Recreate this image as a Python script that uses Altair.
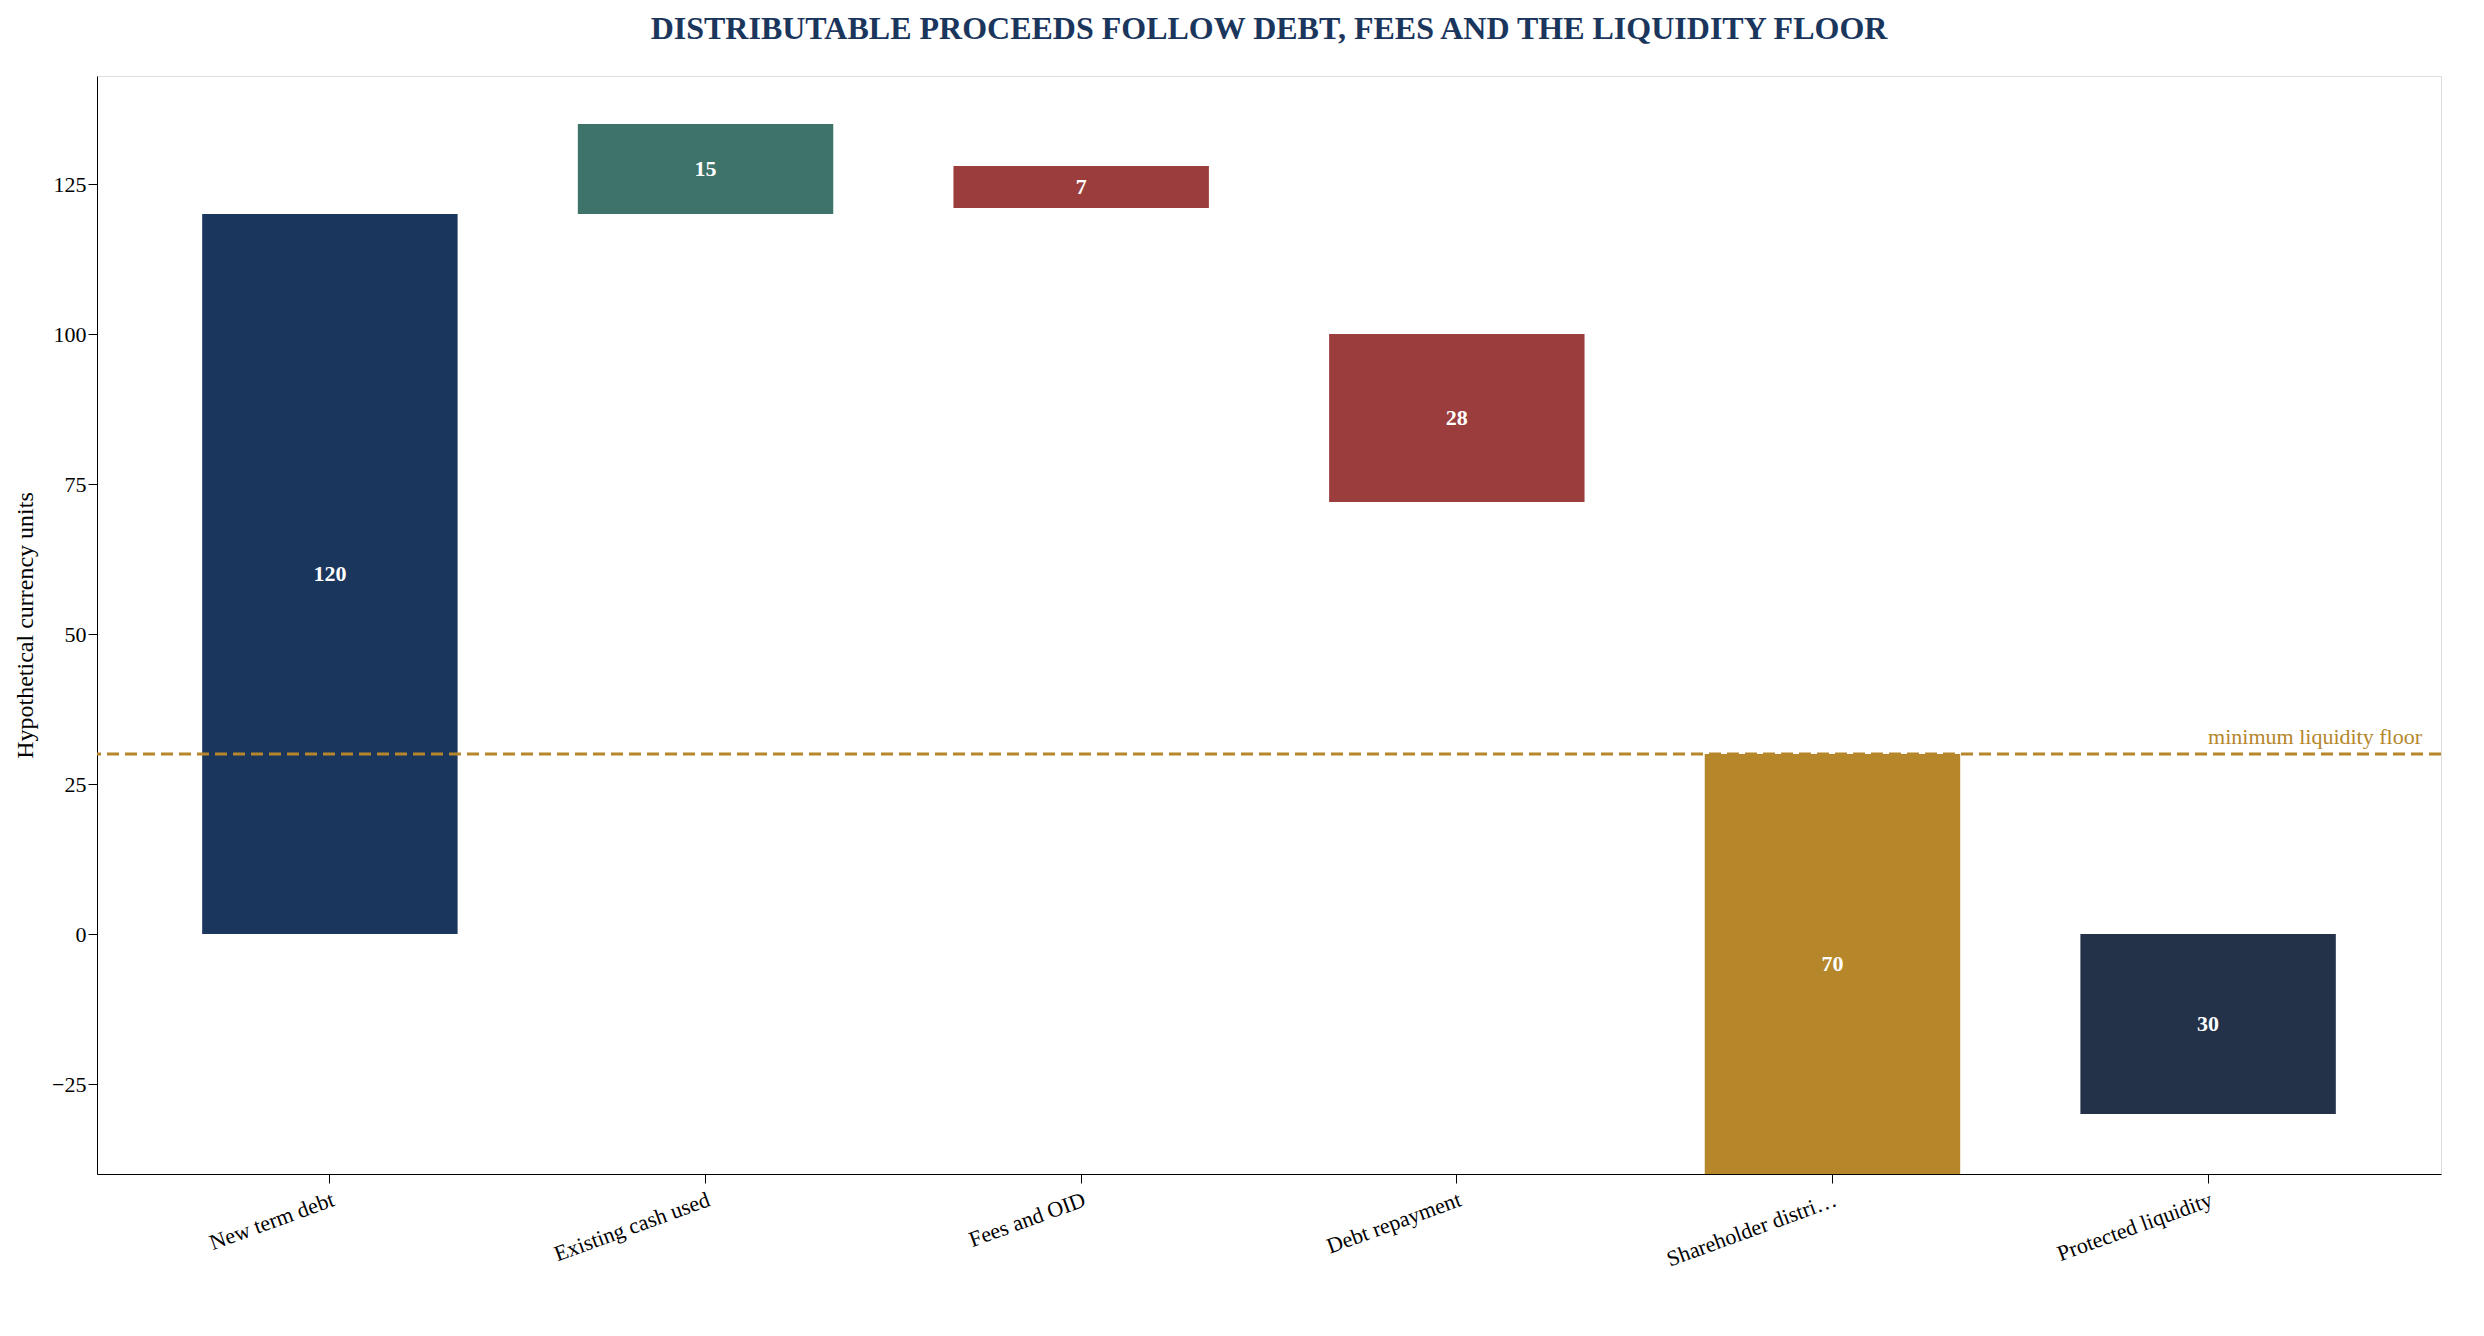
import altair as alt
import pandas as pd

cats = ["New term debt", "Existing cash used", "Fees and OID", "Debt repayment", "Shareholder distribution", "Protected liquidity"]
starts = [0, 120, 128, 100, 30, 0]
ends = [120, 135, 121, 72, -40, -30]
labels = ["120", "15", "7", "28", "70", "30"]
colors = ["#1b365d", "#3d7369", "#9b3d3d", "#9b3d3d", "#b5862a", "#243249"]
floor = 30

df = pd.DataFrame({"cat": cats, "start": starts, "end": ends, "label": labels, "color": colors})
df["mid"] = (df["start"] + df["end"]) / 2

FONT = "Liberation Serif"
x = alt.X("cat:N", sort=cats, title=None,
          scale=alt.Scale(paddingInner=0.32, paddingOuter=0.28),
          axis=alt.Axis(labelAngle=-20, labelFontSize=22, labelFont=FONT, labelColor="black",
                        tickSize=9, domainColor="black", tickColor="black", labelPadding=6))
yscale = alt.Scale(domain=[-40, 143], nice=False, zero=False)

base = alt.Chart(df)
bars = base.mark_bar(clip=True).encode(
    x=x,
    y=alt.Y("start:Q", scale=yscale, title="Hypothetical currency units",
            axis=alt.Axis(values=[-25, 0, 25, 50, 75, 100, 125], grid=False, labelFontSize=22,
                          labelFont=FONT, titleFont=FONT, titleFontSize=24, titleFontWeight="normal",
                          labelColor="black", titleColor="black", tickSize=9, domainColor="black",
                          tickColor="black", titlePadding=14)),
    y2="end:Q",
    color=alt.Color("color:N", scale=None),
)
txt = base.mark_text(color="white", font=FONT, fontSize=22, fontWeight="bold").encode(
    x=alt.X("cat:N", sort=cats), y=alt.Y("mid:Q", scale=yscale), text="label:N")

fdf = pd.DataFrame({"v": [floor], "t": ["minimum liquidity floor"]})
rule = alt.Chart(fdf).mark_rule(color="#b5862a", strokeDash=[12, 6], strokeWidth=3).encode(
    y=alt.Y("v:Q", scale=yscale))
ftxt = alt.Chart(fdf).mark_text(color="#b5862a", font=FONT, fontSize=22, align="right",
                                baseline="bottom", dy=-5).encode(
    x=alt.value(2325), y=alt.Y("v:Q", scale=yscale), text="t:N")

chart = alt.layer(bars, txt, rule, ftxt).properties(
    width=2344, height=1098,
    title=alt.Title("DISTRIBUTABLE PROCEEDS FOLLOW DEBT, FEES AND THE LIQUIDITY FLOOR",
                    font=FONT, fontSize=32, fontWeight="bold", color="#1b365d", offset=30),
).configure_view(stroke=None).configure(background="white")

chart.save("out.html", embed_options={"renderer": "svg", "actions": False})
